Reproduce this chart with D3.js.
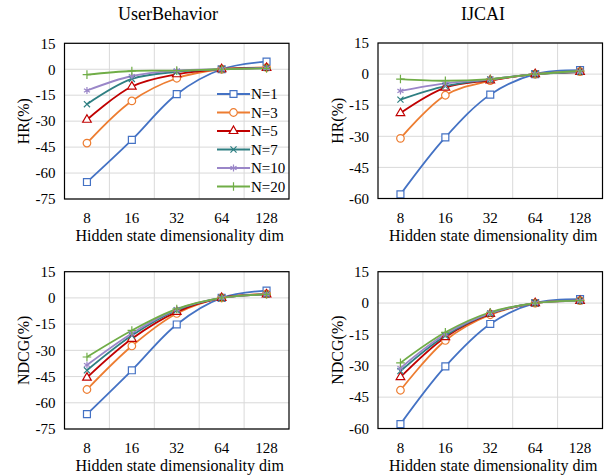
<!DOCTYPE html>
<html>
<head>
<meta charset="utf-8">
<script src="https://cdn.jsdelivr.net/npm/d3@7"></script>
<style>
  body { margin: 0; background: #fff; }
</style>
</head>
<body>
<svg id="canvas" width="615" height="476" font-family="'Liberation Serif', 'Times New Roman', serif"></svg>
<script>
// ----- data -----
let dims = ['8', '16', '32', '64', '128'];
let seriesNames = ['N=1', 'N=3', 'N=5', 'N=7', 'N=10', 'N=20'];
let ticksUser = [15, 0, -15, -30, -45, -60, -75];
let ticksIjcai = [15, 0, -15, -30, -45, -60];

let hrUser = [
  [-65.2, -40.8, -14.4, 0, 4.4],
  [-42.7, -18.3, -5.2, 0, 1.0],
  [-29.2, -10.0, -2.9, 0, 0.8],
  [-20.2, -5.6, -1.5, 0, 0.8],
  [-12.3, -3.9, -0.8, 0, 0.6],
  [-3.1, -1.0, -0.8, 0, 0.5]
];
let hrIjcai = [
  [-58.0, -30.5, -9.9, 0, 1.9],
  [-31.0, -10.2, -3.2, 0, 1.2],
  [-18.8, -6.5, -3.0, 0, 1.0],
  [-12.3, -5.8, -2.6, 0, 1.0],
  [-8.1, -4.5, -2.5, 0, 1.2],
  [-2.4, -3.2, -2.4, 0, 1.5]
];
let ndcgUser = [
  [-66.5, -41.4, -15.2, 0, 4.2],
  [-52.4, -27.5, -8.9, 0, 2.3],
  [-45.6, -23.4, -8.0, 0, 2.0],
  [-41.4, -21.5, -7.0, 0, 2.0],
  [-38.4, -20.3, -6.6, 0, 2.0],
  [-33.8, -18.6, -6.3, 0, 2.0]
];
let ndcgIjcai = [
  [-57.9, -30.3, -10.0, 0, 1.9],
  [-41.7, -17.9, -5.6, 0, 1.2],
  [-35.4, -16.3, -5.2, 0, 1.0],
  [-32.5, -15.6, -5.0, 0, 1.0],
  [-31.1, -14.8, -4.8, 0, 1.0],
  [-28.6, -14.0, -4.4, 0, 1.2]
];

// ----- styles -----
let serif = "'Liberation Serif', 'Times New Roman', serif";
let colors = ['#4472C4', '#ED7D31', '#C00000', '#2E7F82', '#9A86C8', '#70AD47'];
let symbols = [d3.symbolSquare, d3.symbolCircle, d3.symbolTriangle, d3.symbolX, d3.symbolAsterisk, d3.symbolPlus];
let symSizes = [48, 45, 32, 26, 34, 26];
let hollow = [true, true, true, false, false, false];

let canvas = d3.select('#canvas');

let drawPanel = (p) => {
  let g = canvas.append('g');

  let x = d3.scaleBand().domain(dims).range([p.left, p.right]);
  let y = d3.scaleLinear().domain([p.ticks[p.ticks.length - 1], p.ticks[0]]).range([p.bottom, p.top]);

  // horizontal grid
  g.selectAll('.hgrid')
    .data(p.ticks)
    .enter()
    .append('line')
    .attr('x1', p.left).attr('x2', p.right)
    .attr('y1', d => y(d)).attr('y2', d => y(d))
    .attr('stroke', '#d9d9d9').attr('stroke-width', 1);

  // vertical grid between categories
  g.selectAll('.vgrid')
    .data(dims.slice(1))
    .enter()
    .append('line')
    .attr('x1', d => x(d)).attr('x2', d => x(d))
    .attr('y1', p.top).attr('y2', p.bottom)
    .attr('stroke', '#d9d9d9').attr('stroke-width', 1);

  // y tick labels
  g.selectAll('.ytick')
    .data(p.ticks)
    .enter()
    .append('text')
    .attr('x', p.left - 9)
    .attr('y', d => y(d))
    .attr('dy', '0.35em')
    .attr('text-anchor', 'end')
    .attr('font-family', serif)
    .attr('font-size', 15)
    .text(d => d);

  // x tick labels
  g.selectAll('.xtick')
    .data(dims)
    .enter()
    .append('text')
    .attr('x', d => x(d) + x.bandwidth() / 2)
    .attr('y', p.bottom + 24)
    .attr('text-anchor', 'middle')
    .attr('font-family', serif)
    .attr('font-size', 15)
    .text(d => d);

  // lines
  let line = d3.line()
    .x((d, i) => x(dims[i]) + x.bandwidth() / 2)
    .y(d => y(d))
    .curve(d3.curveCatmullRom.alpha(0.5));

  p.values.forEach((vals, s) => {
    g.append('path')
      .attr('d', line(vals))
      .attr('fill', 'none')
      .attr('stroke', colors[s])
      .attr('stroke-width', 1.8);
  });

  p.values.forEach((vals, s) => {
    g.selectAll('.m' + s)
      .data(vals)
      .enter()
      .append('path')
      .attr('transform', (d, i) => 'translate(' + (x(dims[i]) + x.bandwidth() / 2) + ',' + y(d) + ')')
      .attr('d', d3.symbol().type(symbols[s]).size(symSizes[s]))
      .attr('fill', hollow[s] ? '#fff' : 'none')
      .attr('stroke', colors[s])
      .attr('stroke-width', 1.2);
  });

  // frame
  g.append('rect')
    .attr('x', p.left).attr('y', p.top)
    .attr('width', p.right - p.left).attr('height', p.bottom - p.top)
    .attr('fill', 'none')
    .attr('stroke', '#000')
    .attr('stroke-width', 1.2);

  // axis titles
  g.append('text')
    .attr('x', (p.left + p.right) / 2 + 3)
    .attr('y', p.bottom + 42)
    .attr('text-anchor', 'middle')
    .attr('font-family', serif)
    .attr('font-size', 16)
    .text('Hidden state dimensionality dim');

  g.append('text')
    .attr('transform', 'translate(' + p.ylabelX + ',' + ((p.top + p.bottom) / 2) + ') rotate(-90)')
    .attr('dy', '0.35em')
    .attr('text-anchor', 'middle')
    .attr('font-family', serif)
    .attr('font-size', 16)
    .text(p.ylabel);

  if (p.title) {
    g.append('text')
      .attr('x', p.titleX)
      .attr('y', 20)
      .attr('text-anchor', 'middle')
      .attr('font-family', serif)
      .attr('font-size', 18)
      .text(p.title);
  }

  if (p.legend) {
    let lg = g.selectAll('.legend')
      .data(seriesNames)
      .enter()
      .append('g')
      .attr('transform', (d, i) => 'translate(217,' + (94 + i * 18.5) + ')');
    lg.append('line')
      .attr('x1', 0).attr('x2', 33)
      .attr('stroke', (d, i) => colors[i])
      .attr('stroke-width', 1.8);
    lg.append('path')
      .attr('transform', 'translate(16.5,0)')
      .attr('d', (d, i) => d3.symbol().type(symbols[i]).size(symSizes[i])())
      .attr('fill', (d, i) => hollow[i] ? '#fff' : 'none')
      .attr('stroke', (d, i) => colors[i])
      .attr('stroke-width', 1.2);
    lg.append('text')
      .attr('x', 34)
      .attr('dy', '0.35em')
      .attr('font-family', serif)
      .attr('font-size', 15)
      .text(d => d);
  }
};

drawPanel({ left: 64.5, right: 289, top: 43.3, bottom: 199, ticks: ticksUser, values: hrUser,
  ylabel: 'HR(%)', ylabelX: 23, title: 'UserBehavior', titleX: 168, legend: true });
drawPanel({ left: 378, right: 602.5, top: 43, bottom: 198.5, ticks: ticksIjcai, values: hrIjcai,
  ylabel: 'HR(%)', ylabelX: 337, title: 'IJCAI', titleX: 483, legend: false });
drawPanel({ left: 64.5, right: 289, top: 271.7, bottom: 429, ticks: ticksUser, values: ndcgUser,
  ylabel: 'NDCG(%)', ylabelX: 23, legend: false });
drawPanel({ left: 378, right: 602.5, top: 271.7, bottom: 428.5, ticks: ticksIjcai, values: ndcgIjcai,
  ylabel: 'NDCG(%)', ylabelX: 337, legend: false });
</script>
</body>
</html>
